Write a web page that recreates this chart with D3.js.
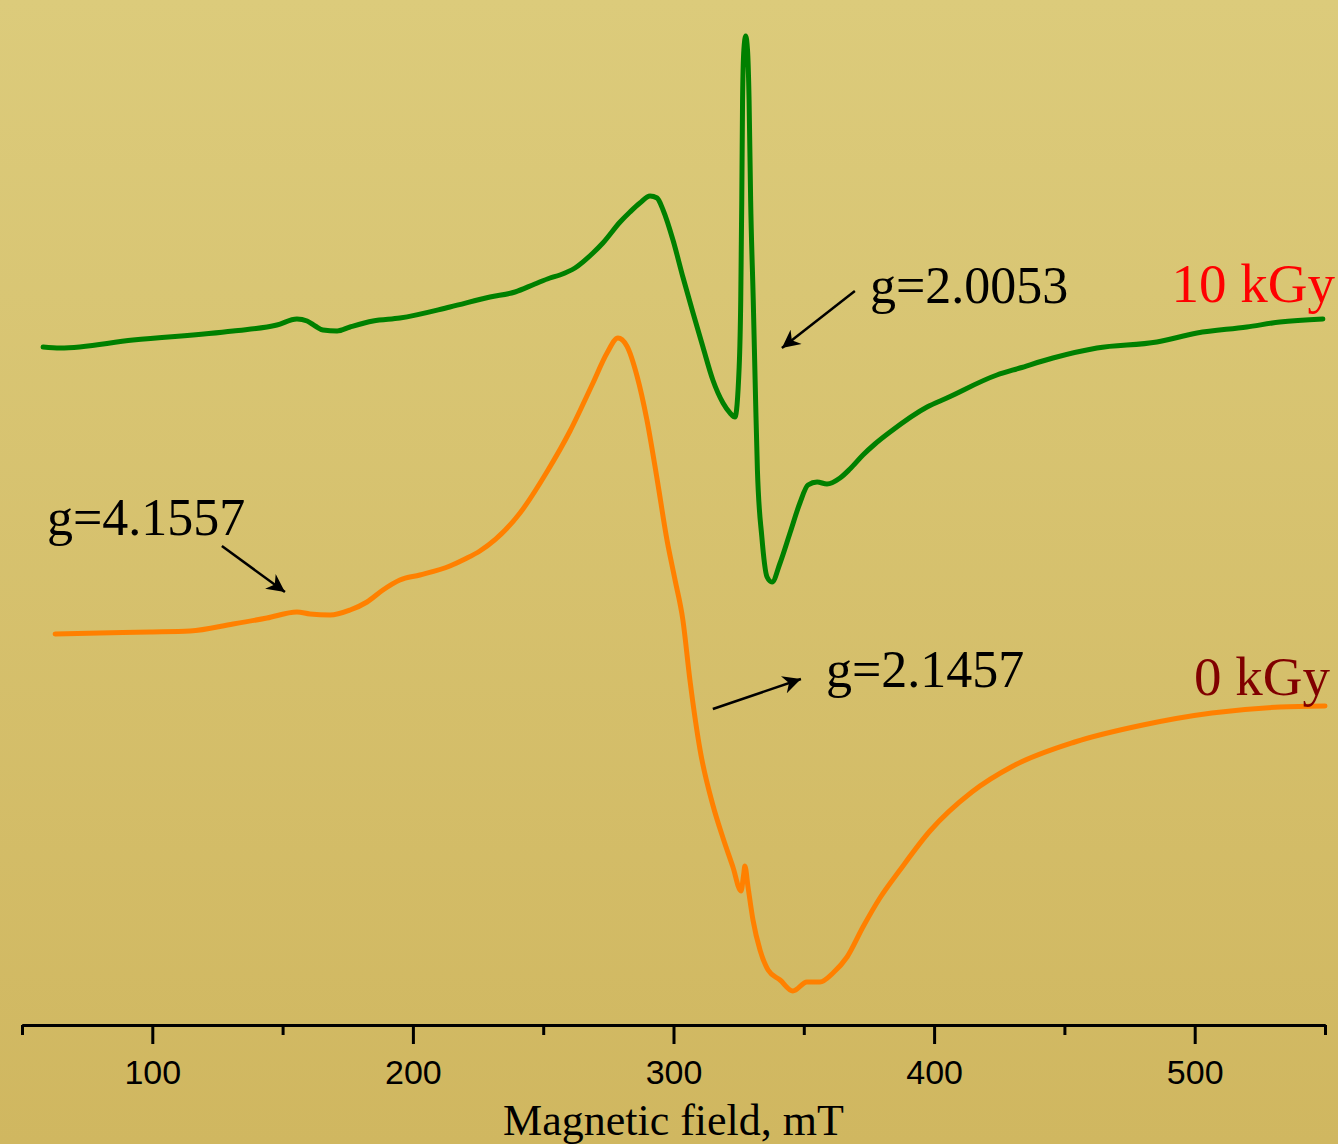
<!DOCTYPE html>
<html>
<head>
<meta charset="utf-8">
<script src="https://cdn.jsdelivr.net/npm/d3@7"></script>
<style>
  html, body { margin: 0; padding: 0; overflow: hidden; }
  body { width: 1338px; height: 1144px; }
</style>
</head>
<body>
<div id="chart"></div>
<script>
// EPR spectra, magnetic field (mT) vs derivative signal (arb. units)
const field10 = [58.1, 64.6, 92.6, 131.0, 147.8, 155.5, 159.4, 162.5, 165.5, 170.9, 175.9, 184.7, 195.0, 214.2, 229.6, 239.2, 246.8, 252.6, 256.4, 262.2, 269.1, 272.9, 279.5, 283.3, 287.1, 291.0, 293.7, 296.0, 299.8, 303.6, 307.5, 311.3, 315.1, 319.0, 321.7, 323.6, 325.2, 325.8, 326.2, 326.5, 327.0, 327.7, 328.4, 329.0, 329.6, 330.6, 331.5, 332.2, 333.9, 335.9, 337.8, 340.9, 344.7, 348.5, 351.6, 355.1, 358.9, 363.9, 367.7, 372.7, 377.3, 383.1, 397.3, 404.9, 424.1, 432.9, 445.6, 462.5, 485.5, 500.9, 520.0, 532.7, 549.2];
const signal10 = [67.8, 67.7, 68.5, 69.4, 70.0, 70.6, 70.4, 69.9, 69.5, 69.4, 69.8, 70.4, 70.7, 71.8, 72.8, 73.3, 74.1, 74.7, 75.0, 75.7, 77.2, 78.2, 80.3, 81.3, 82.2, 82.9, 82.7, 81.5, 78.5, 74.8, 71.2, 67.8, 64.5, 62.2, 61.2, 60.8, 65.8, 72.5, 82.5, 92.5, 97.5, 98.9, 97.5, 92.5, 82.5, 72.5, 62.5, 55.5, 48.8, 44.8, 44.3, 46.2, 49.2, 52.2, 54.0, 54.3, 54.1, 54.7, 55.6, 57.0, 58.1, 59.3, 61.8, 62.7, 65.0, 65.7, 66.7, 67.7, 68.3, 69.2, 69.8, 70.3, 70.6];

const field0 = [62.7, 79.9, 99.1, 114.5, 131.0, 144.0, 155.5, 160.5, 168.2, 175.9, 182.4, 188.5, 195.0, 202.7, 214.2, 220.0, 225.7, 241.1, 251.4, 260.3, 269.1, 274.5, 278.7, 282.1, 286.0, 289.8, 293.7, 297.5, 300.6, 303.6, 306.3, 310.2, 315.1, 319.0, 322.8, 325.9, 326.9, 327.4, 328.6, 330.5, 333.2, 336.3, 340.9, 345.8, 351.2, 356.2, 361.2, 366.6, 372.7, 379.2, 386.9, 398.4, 414.5, 430.3, 454.0, 480.1, 506.6, 532.7, 550.0];
const signal0 = [39.1, 39.2, 39.3, 39.4, 40.1, 40.7, 41.3, 41.1, 41.0, 41.5, 42.3, 43.5, 44.5, 45.0, 45.9, 46.6, 47.4, 51.2, 55.3, 59.4, 64.2, 67.2, 68.7, 67.9, 64.9, 60.5, 54.6, 48.5, 44.5, 40.5, 34.5, 27.5, 22.0, 18.7, 15.8, 13.4, 15.0, 15.9, 13.8, 10.5, 7.5, 5.5, 4.5, 3.4, 4.3, 4.3, 5.2, 6.8, 9.8, 12.7, 15.5, 19.4, 23.3, 25.9, 28.3, 30.0, 31.2, 31.8, 31.9];

const majorTicks = [100, 200, 300, 400, 500];
const minorTicks = [50, 150, 250, 350, 450, 550];

// annotations: text, field, signal
const gLabels = [
  { text: "g=2.0053", field: 375.4, signal: 72.2 },
  { text: "g=4.1557", field: 59.6, signal: 49.0 },
  { text: "g=2.1457", field: 358.5, signal: 33.8 }
];
const arrows = [
  { from: [369.6, 73.4], to: [341.6, 67.7] },
  { from: [126.7, 47.9], to: [150.9, 43.3] },
  { from: [315.1, 31.6], to: [348.9, 34.6] }
];
const doseLabels = [
  { text: "10 kGy", field: 553.8, signal: 72.3, color: "#ff0000" },
  { text: "0 kGy", field: 551.9, signal: 33.0, color: "#800000" }
];

const W = 1338, H = 1144;
const svg = d3.select("#chart").append("svg")
  .attr("width", W)
  .attr("height", H);

const defs = svg.append("defs");
const grad = defs.append("linearGradient")
  .attr("id", "bg")
  .attr("x1", 0).attr("y1", 0).attr("x2", 0).attr("y2", 1);
grad.append("stop").attr("offset", "0%").attr("stop-color", "#dccb7b");
grad.append("stop").attr("offset", "100%").attr("stop-color", "#d0b760");

defs.append("marker")
  .attr("id", "arrow")
  .attr("viewBox", "0 0 10 10")
  .attr("refX", 10).attr("refY", 5)
  .attr("markerUnits", "userSpaceOnUse")
  .attr("markerWidth", 25).attr("markerHeight", 18)
  .attr("orient", "auto")
  .append("path")
  .attr("d", "M0,0 L10,5 L0,10 L3,5 Z")
  .attr("fill", "#000");

svg.append("rect").attr("width", W).attr("height", H).attr("fill", "url(#bg)");

const x = d3.scaleLinear().domain([50, 550]).range([22, 1325]);
const y = d3.scaleLinear().domain([0, 100]).range([1025, 25]);

const line = d3.line()
  .x(d => x(d[0]))
  .y(d => y(d[1]))
  .curve(d3.curveMonotoneX);

svg.append("path")
  .datum(d3.zip(field10, signal10))
  .attr("d", line)
  .attr("fill", "none")
  .attr("stroke", "#008000")
  .attr("stroke-width", 5)
  .attr("stroke-linejoin", "round")
  .attr("stroke-linecap", "round");

svg.append("path")
  .datum(d3.zip(field0, signal0))
  .attr("d", line)
  .attr("fill", "none")
  .attr("stroke", "#ff8000")
  .attr("stroke-width", 5)
  .attr("stroke-linejoin", "round")
  .attr("stroke-linecap", "round");

// axis
svg.append("g")
  .attr("transform", `translate(0,${y(0)})`)
  .call(d3.axisBottom(x).tickValues(minorTicks).tickSize(10).tickSizeOuter(0).tickFormat(""));

const majorAxis = svg.append("g")
  .attr("transform", `translate(0,${y(0)})`)
  .call(d3.axisBottom(x).tickValues(majorTicks).tickSize(19).tickSizeOuter(0).tickPadding(16));

svg.selectAll(".domain").attr("stroke", "#000").attr("stroke-width", 3);
svg.selectAll(".tick line").attr("stroke", "#000").attr("stroke-width", 3);
majorAxis.selectAll("text")
  .attr("fill", "#000")
  .style("font-family", "'Liberation Sans', Arial, sans-serif")
  .style("font-size", "34px");

svg.append("text")
  .attr("x", x(300))
  .attr("y", 1135)
  .attr("text-anchor", "middle")
  .style("font-family", "'Liberation Serif', 'Times New Roman', serif")
  .style("font-size", "44px")
  .attr("fill", "#000")
  .text("Magnetic field, mT");

// annotations
svg.selectAll(".arrow")
  .data(arrows)
  .enter()
  .append("line")
  .attr("class", "arrow")
  .attr("x1", d => x(d.from[0]))
  .attr("y1", d => y(d.from[1]))
  .attr("x2", d => x(d.to[0]))
  .attr("y2", d => y(d.to[1]))
  .attr("stroke", "#000")
  .attr("stroke-width", 2.5)
  .attr("marker-end", "url(#arrow)");

svg.selectAll(".glabel")
  .data(gLabels)
  .enter()
  .append("text")
  .attr("class", "glabel")
  .attr("x", d => x(d.field))
  .attr("y", d => y(d.signal))
  .style("font-family", "'Liberation Serif', 'Times New Roman', serif")
  .style("font-size", "52px")
  .attr("fill", "#000")
  .text(d => d.text);

svg.selectAll(".dose")
  .data(doseLabels)
  .enter()
  .append("text")
  .attr("class", "dose")
  .attr("x", d => x(d.field))
  .attr("y", d => y(d.signal))
  .attr("text-anchor", "end")
  .style("font-family", "'Liberation Serif', 'Times New Roman', serif")
  .style("font-size", "55px")
  .attr("fill", d => d.color)
  .text(d => d.text);
</script>
</body>
</html>
